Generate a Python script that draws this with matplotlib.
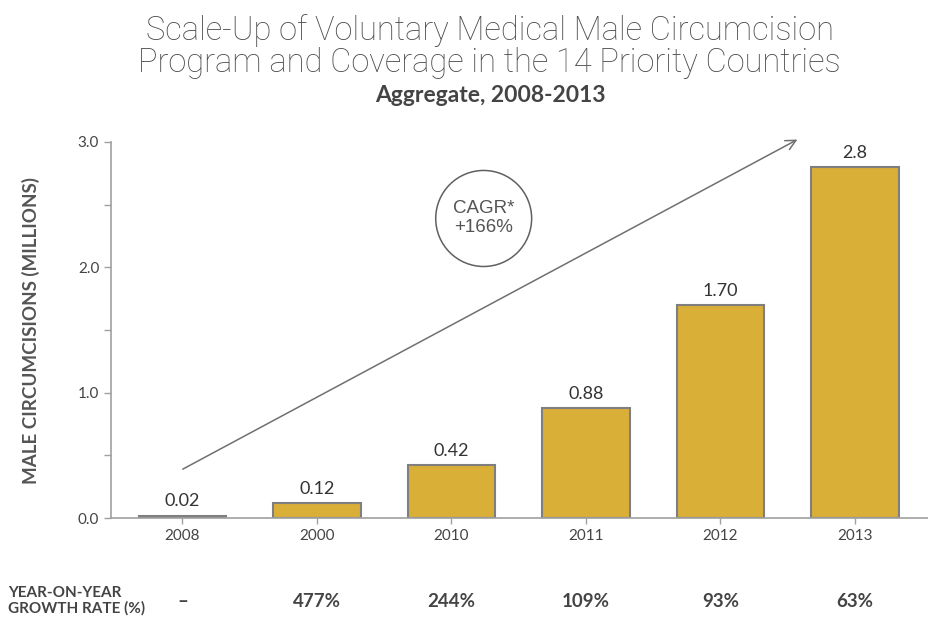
import numpy as np
import matplotlib
matplotlib.use('Agg')
import matplotlib.pyplot as plt
from matplotlib.patches import Ellipse

# ======================= data ==========================
years = ['2008', '2000', '2010', '2011', '2012', '2013']
circumcisions = [0.02, 0.12, 0.42, 0.88, 1.70, 2.8]
value_labels = ['0.02', '0.12', '0.42', '0.88', '1.70', '2.8']
growth = ['–', '477%', '244%', '109%', '93%', '63%']
cagr_text = 'CAGR*\n+166%'

gold = '#D9AF38'
edge = '#7F7F7F'
txt = '#444444'

plt.rcParams['font.family'] = ['Lato', 'DejaVu Sans']

fig = plt.figure(figsize=(9.29, 6.19), dpi=100)
ax = fig.add_axes([0.1195, 0.163, 0.8805, 0.6076])

x = np.arange(len(years))
ax.bar(x, circumcisions, width=0.65, color=gold, edgecolor=edge, linewidth=1.5)
for xi, v, lab in zip(x, circumcisions, value_labels):
    ax.text(xi, v + 0.05, lab, ha='center', va='bottom', fontsize=13, color='#333333')

ax.set_xlim(-0.53, 5.55)
ax.set_ylim(0, 3.0)
ax.set_xticks(x)
ax.set_xticklabels(years, fontsize=11, color=txt)
ax.set_yticks([0, 1, 2, 3])
ax.set_yticklabels(['0.0', '1.0', '2.0', '3.0'], fontsize=11, color=txt)
ax.set_yticks([0.5, 1.5, 2.5], minor=True)
ax.tick_params(axis='y', which='both', length=5, color='#A0A0A0', width=1)
ax.tick_params(axis='x', length=4, color='#A0A0A0', width=1)
for s in ['top', 'right']:
    ax.spines[s].set_visible(False)
for s in ['left', 'bottom']:
    ax.spines[s].set_color('#A0A0A0')
    ax.spines[s].set_linewidth(1.2)

ax.set_ylabel('MALE CIRCUMCISIONS (MILLIONS)', fontsize=13.5, fontweight='bold',
              color='#555555', labelpad=27)

# trend arrow and CAGR circle
ax.annotate('', xy=(4.59, 3.03), xytext=(-0.015, 0.38),
            arrowprops=dict(arrowstyle='->', color='#707070', lw=1.1,
                            mutation_scale=18),
            annotation_clip=False)
ax.add_patch(Ellipse((2.24, 2.39), 0.713, 0.766, fill=False,
                     edgecolor='#606060', lw=1.1))
ax.text(2.24, 2.39, cagr_text, ha='center', va='center', fontsize=13.5,
        color='#555555', family=['Liberation Sans', 'DejaVu Sans'], linespacing=1.15)

# titles
fig.text(0.527, 0.978, 'Scale-Up of Voluntary Medical Male Circumcision\n'
         'Program and Coverage in the 14 Priority Countries',
         ha='center', va='top', fontsize=23.5, color='#4d4d4d', fontweight='light',
         family=['Roboto', 'DejaVu Sans'], linespacing=1.0)
fig.text(0.528, 0.845, 'Aggregate, 2008-2013', ha='center', va='center',
         fontsize=16.5, fontweight='bold', color='#444444')

# growth row
fig.text(0.009, 0.030, 'YEAR-ON-YEAR\nGROWTH RATE (%)', ha='left', va='center',
         fontsize=11, fontweight='bold', color='#444444', linespacing=1.1)
for xi, g in zip(x, growth):
    xf = fig.transFigure.inverted().transform(ax.transData.transform((xi, 0)))[0]
    fig.text(xf, 0.028, g, ha='center', va='center', fontsize=13.5,
             fontweight='bold', color='#444444')

fig.savefig('out.png', dpi=100)
